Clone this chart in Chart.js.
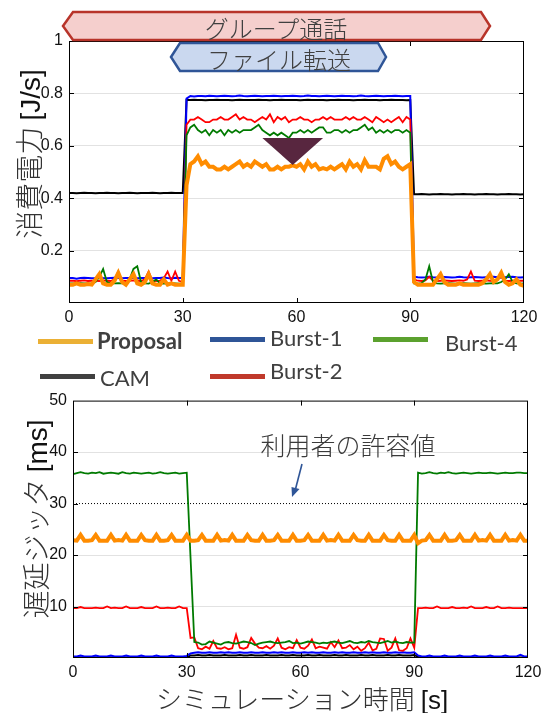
<!DOCTYPE html>
<html lang="ja">
<head>
<meta charset="utf-8">
<title>消費電力と遅延ジッタ</title>
<script src="https://cdn.jsdelivr.net/npm/chart.js@4.4.1/dist/chart.umd.min.js"></script>
<style>
  html, body { margin: 0; padding: 0; background: #fff; }
  #page { position: relative; width: 557px; height: 713px; overflow: hidden;
          font-family: 'Noto Sans CJK JP', sans-serif; }
  .box { position: absolute; left: 0; width: 557px; }
  #box-power  { top: 0;     height: 330px; }
  #box-jitter { top: 385px; height: 328px; }
  #overlay { position: absolute; left: 0; top: 0; pointer-events: none; }
  .ytitle { position: absolute; white-space: nowrap; font-size: 28px; color: #333;
            transform: translate(-50%, -50%) rotate(-90deg); }
  .xtitle { position: absolute; white-space: nowrap; font-size: 26px; color: #333;
            transform: translate(-50%, -50%); }
  .jp  { font-family: 'Noto Sans CJK JP', sans-serif; font-weight: 300; }
  .lat { font-family: 'Liberation Sans', Arial, sans-serif; color: #111; }
  .note { position: absolute; white-space: nowrap; font-size: 25px; color: #3a3a3a;
          font-weight: 300; transform: translate(-50%, -50%); }
  .lg-line { position: absolute; width: 55px; height: 5px; }
  .lg-text { position: absolute; white-space: nowrap; font-family: Lato, 'Open Sans', sans-serif;
             font-size: 22px; color: #404040; transform: translateY(-50%); }
</style>
</head>
<body>
<div id="page">
  <div class="box" id="box-power"><canvas id="chart-power"></canvas></div>
  <div class="box" id="box-jitter"><canvas id="chart-jitter"></canvas></div>

  <svg id="overlay" width="557" height="713" font-family="'Noto Sans CJK JP', sans-serif">
    <polygon points="63,26 73,12 481,12 490,26 481,40 73,40"
             fill="#F5CFCD" stroke="#B8342A" stroke-width="2.5"/>
    <text x="276" y="27" text-anchor="middle" dominant-baseline="central"
          font-size="24" font-weight="300" fill="#404040">グループ通話</text>
    <polygon points="171,57 180,43 378,43 386,57 378,71 180,71"
             fill="#CAD8EF" stroke="#2F5597" stroke-width="2.5"/>
    <text x="279" y="58" text-anchor="middle" dominant-baseline="central"
          font-size="24" font-weight="300" fill="#404040">ファイル転送</text>
    <line x1="302" y1="464" x2="295.5" y2="489" stroke="#2F5597" stroke-width="1.6"/>
    <polygon points="292,497 291.5,487 299.5,489" fill="#2F5597"/>
  </svg>

  <div class="ytitle" style="left:28px; top:154px;"><span class="jp">消費電力</span> <span class="lat">[J/s]</span></div>
  <div class="ytitle" style="left:35px; top:519px;"><span class="jp">遅延ジッタ</span> <span class="lat">[ms]</span></div>
  <div class="xtitle" style="left:302px; top:697px;"><span class="jp">シミュレーション時間</span> <span class="lat">[s]</span></div>
  <div class="note" style="left:348px; top:444px;">利用者の許容値</div>
  <div id="legend"></div>
</div>

<script>
// ---- data --------------------------------------------------------------
const TIME = Array.from({ length: 121 }, (_, i) => i);   // seconds, 1 s sampling

const X_TICKS      = [0, 30, 60, 90, 120];
const POWER_TICKS  = [0, 0.2, 0.4, 0.6, 0.8, 1];
const JITTER_TICKS = [0, 10, 20, 30, 40, 50];
const JITTER_LIMIT = 30;   // 利用者の許容値 [ms]

const SERIES = ['Proposal', 'Burst-1', 'Burst-4', 'CAM', 'Burst-2'];

// 消費電力 [J/s]
const PROPOSAL_POWER = [
  0.07, 0.07, 0.075, 0.07, 0.07, 0.072, 0.07, 0.09, 0.11, 0.075,
  0.07, 0.07, 0.085, 0.115, 0.08, 0.07, 0.09, 0.11, 0.075, 0.07,
  0.08, 0.11, 0.075, 0.07, 0.07, 0.09, 0.07, 0.075, 0.07, 0.07,
  0.07, 0.45, 0.53, 0.54, 0.56, 0.53, 0.54, 0.52, 0.52, 0.51,
  0.51, 0.52, 0.51, 0.52, 0.53, 0.54, 0.52, 0.53, 0.52, 0.54,
  0.53, 0.52, 0.53, 0.51, 0.51, 0.52, 0.51, 0.52, 0.52, 0.525,
  0.52, 0.53, 0.51, 0.54, 0.52, 0.53, 0.51, 0.515, 0.51, 0.52,
  0.51, 0.52, 0.53, 0.51, 0.54, 0.52, 0.53, 0.51, 0.545, 0.52,
  0.52, 0.52, 0.51, 0.55, 0.56, 0.53, 0.54, 0.52, 0.51, 0.52,
  0.53, 0.08, 0.07, 0.07, 0.07, 0.07, 0.07, 0.09, 0.11, 0.08,
  0.07, 0.07, 0.07, 0.075, 0.07, 0.07, 0.07, 0.07, 0.07, 0.075,
  0.09, 0.11, 0.08, 0.09, 0.115, 0.08, 0.07, 0.075, 0.09, 0.07,
  0.065
];
const BURST1_POWER = [
  0.095, 0.095, 0.093, 0.095, 0.096, 0.095, 0.094, 0.095, 0.097, 0.095,
  0.094, 0.095, 0.096, 0.095, 0.094, 0.095, 0.095, 0.096, 0.094, 0.095,
  0.095, 0.096, 0.094, 0.095, 0.095, 0.097, 0.095, 0.094, 0.096, 0.095,
  0.095, 0.78, 0.79, 0.788, 0.79, 0.79, 0.789, 0.791, 0.79, 0.789,
  0.79, 0.791, 0.79, 0.789, 0.79, 0.792, 0.79, 0.789, 0.79, 0.791,
  0.79, 0.789, 0.79, 0.79, 0.791, 0.79, 0.789, 0.79, 0.79, 0.791,
  0.79, 0.789, 0.79, 0.792, 0.79, 0.79, 0.789, 0.79, 0.791, 0.79,
  0.789, 0.79, 0.791, 0.79, 0.79, 0.789, 0.79, 0.792, 0.79, 0.789,
  0.79, 0.791, 0.79, 0.789, 0.79, 0.79, 0.791, 0.79, 0.789, 0.79,
  0.79, 0.1, 0.098, 0.097, 0.098, 0.1, 0.098, 0.097, 0.098, 0.099,
  0.098, 0.097, 0.098, 0.1, 0.098, 0.097, 0.098, 0.099, 0.098, 0.097,
  0.098, 0.099, 0.1, 0.098, 0.097, 0.098, 0.099, 0.1, 0.098, 0.097,
  0.098
];
const BURST4_POWER = [
  0.075, 0.075, 0.074, 0.076, 0.075, 0.075, 0.074, 0.08, 0.10, 0.13,
  0.08, 0.075, 0.075, 0.076, 0.075, 0.074, 0.09, 0.13, 0.14, 0.08,
  0.075, 0.074, 0.08, 0.09, 0.075, 0.074, 0.075, 0.076, 0.075, 0.074,
  0.075, 0.64, 0.67, 0.68, 0.66, 0.65, 0.66, 0.64, 0.66, 0.65,
  0.66, 0.64, 0.66, 0.65, 0.66, 0.65, 0.66, 0.66, 0.66, 0.67,
  0.68, 0.66, 0.65, 0.64, 0.65, 0.64, 0.65, 0.64, 0.63, 0.65,
  0.65, 0.66, 0.65, 0.66, 0.65, 0.66, 0.67, 0.67, 0.65, 0.65,
  0.66, 0.66, 0.65, 0.66, 0.65, 0.66, 0.66, 0.67, 0.68, 0.66,
  0.67, 0.65, 0.66, 0.65, 0.66, 0.65, 0.66, 0.66, 0.65, 0.66,
  0.65, 0.075, 0.074, 0.076, 0.09, 0.14, 0.08, 0.075, 0.074, 0.075,
  0.076, 0.075, 0.074, 0.075, 0.076, 0.075, 0.074, 0.075, 0.076, 0.075,
  0.074, 0.075, 0.076, 0.075, 0.08, 0.09, 0.11, 0.08, 0.075, 0.074,
  0.075
];
const CAM_POWER = [
  0.42, 0.42, 0.419, 0.42, 0.421, 0.42, 0.42, 0.419, 0.42, 0.42,
  0.421, 0.42, 0.42, 0.419, 0.42, 0.42, 0.421, 0.42, 0.419, 0.42,
  0.42, 0.42, 0.421, 0.42, 0.419, 0.42, 0.42, 0.421, 0.42, 0.42,
  0.42, 0.775, 0.775, 0.776, 0.775, 0.775, 0.774, 0.775, 0.775, 0.776,
  0.775, 0.775, 0.775, 0.774, 0.775, 0.776, 0.775, 0.775, 0.775, 0.775,
  0.776, 0.775, 0.775, 0.774, 0.775, 0.775, 0.776, 0.775, 0.775, 0.775,
  0.775, 0.774, 0.775, 0.776, 0.775, 0.775, 0.775, 0.775, 0.774, 0.775,
  0.775, 0.776, 0.775, 0.775, 0.775, 0.774, 0.775, 0.775, 0.776, 0.775,
  0.775, 0.775, 0.774, 0.775, 0.775, 0.776, 0.775, 0.775, 0.775, 0.774,
  0.775, 0.415, 0.415, 0.416, 0.415, 0.414, 0.415, 0.415, 0.416, 0.415,
  0.415, 0.414, 0.415, 0.415, 0.416, 0.415, 0.415, 0.414, 0.415, 0.415,
  0.416, 0.415, 0.415, 0.414, 0.415, 0.415, 0.416, 0.415, 0.415, 0.414,
  0.415
];
const BURST2_POWER = [
  0.085, 0.085, 0.083, 0.085, 0.086, 0.084, 0.085, 0.085, 0.084, 0.086,
  0.085, 0.084, 0.09, 0.12, 0.085, 0.084, 0.085, 0.086, 0.085, 0.084,
  0.09, 0.12, 0.085, 0.084, 0.085, 0.095, 0.12, 0.085, 0.12, 0.085,
  0.08, 0.68, 0.70, 0.70, 0.71, 0.70, 0.69, 0.69, 0.70, 0.70,
  0.71, 0.70, 0.70, 0.71, 0.72, 0.70, 0.71, 0.70, 0.70, 0.69,
  0.70, 0.71, 0.70, 0.72, 0.69, 0.71, 0.70, 0.71, 0.69, 0.70,
  0.70, 0.71, 0.70, 0.70, 0.69, 0.70, 0.70, 0.71, 0.70, 0.71,
  0.70, 0.70, 0.70, 0.71, 0.70, 0.71, 0.70, 0.70, 0.71, 0.70,
  0.69, 0.71, 0.70, 0.69, 0.70, 0.69, 0.70, 0.71, 0.69, 0.71,
  0.70, 0.09, 0.085, 0.084, 0.086, 0.10, 0.085, 0.084, 0.085, 0.086,
  0.085, 0.084, 0.085, 0.086, 0.085, 0.09, 0.12, 0.085, 0.084, 0.085,
  0.086, 0.085, 0.084, 0.09, 0.10, 0.085, 0.084, 0.085, 0.086, 0.085,
  0.085
];

// 遅延ジッタ [ms]
const PROPOSAL_JITTER = [
  22.9, 22.8, 23.9, 22.8, 22.8, 22.9, 23.9, 22.8, 22.8, 22.8,
  23.9, 22.8, 22.9, 22.8, 23.9, 22.8, 22.8, 22.8, 23.9, 22.9,
  22.8, 22.8, 23.9, 22.8, 22.8, 22.9, 23.9, 22.8, 22.8, 22.8,
  23.9, 22.8, 22.8, 22.9, 23.9, 22.8, 22.8, 22.8, 23.9, 22.8,
  22.9, 22.8, 23.9, 22.8, 22.8, 22.8, 23.9, 22.9, 22.8, 22.8,
  23.9, 22.8, 22.8, 22.9, 23.9, 22.8, 22.8, 22.8, 23.9, 22.8,
  22.8, 22.9, 23.9, 22.8, 22.8, 22.8, 23.9, 22.8, 22.9, 22.8,
  23.9, 22.8, 22.8, 22.8, 23.9, 22.9, 22.8, 22.8, 23.9, 22.8,
  22.8, 22.8, 23.9, 22.9, 22.8, 22.8, 23.9, 22.8, 22.8, 22.8,
  23.9, 22.3, 22.8, 22.9, 23.9, 22.8, 22.8, 22.8, 23.9, 22.8,
  22.8, 22.9, 23.9, 22.8, 22.8, 22.8, 23.9, 22.8, 22.9, 22.8,
  23.9, 22.8, 22.8, 22.8, 23.9, 22.8, 22.9, 22.8, 23.9, 22.8,
  22.8
];
const BURST1_JITTER = [
  0.3, 0.3, 0.5, 0.3, 0.3, 0.3, 0.5, 0.3, 0.3, 0.3,
  0.5, 0.3, 0.3, 0.3, 0.5, 0.3, 0.3, 0.3, 0.5, 0.3,
  0.3, 0.3, 0.5, 0.3, 0.3, 0.3, 0.5, 0.3, 0.3, 0.3,
  0.4, 0.9, 1.0, 1.1, 1.0, 1.0, 1.1, 1.0, 1.0, 1.1,
  1.0, 1.1, 1.0, 1.0, 1.1, 1.0, 1.0, 1.1, 1.0, 1.0,
  1.1, 1.0, 1.0, 1.1, 1.0, 1.1, 1.0, 1.0, 1.1, 1.0,
  1.0, 1.1, 1.0, 1.1, 1.0, 1.0, 1.1, 1.0, 1.0, 1.1,
  1.0, 1.1, 1.0, 1.0, 1.1, 1.0, 1.0, 1.1, 1.0, 1.1,
  1.0, 1.0, 1.1, 1.0, 1.0, 1.1, 1.0, 1.1, 1.0, 1.0,
  1.1, 0.5, 0.3, 0.3, 0.5, 0.3, 0.3, 0.3, 0.5, 0.3,
  0.3, 0.3, 0.5, 0.3, 0.3, 0.3, 0.5, 0.3, 0.3, 0.3,
  0.5, 0.3, 0.3, 0.3, 0.5, 0.3, 0.3, 0.3, 0.6, 0.3,
  0.3
];
const BURST4_JITTER = [
  35.7, 35.9, 36.1, 35.9, 35.8, 36.0, 35.9, 36.1, 35.8, 35.9,
  36.0, 35.9, 35.8, 36.1, 35.9, 35.8, 36.0, 35.9, 35.8, 35.9,
  36.0, 35.8, 35.9, 36.1, 35.9, 35.8, 35.9, 36.0, 35.8, 35.9,
  36.0, 19.5, 3.1, 3.0, 2.6, 2.7, 3.2, 3.0, 2.8, 2.6,
  3.0, 3.1, 2.9, 2.8, 3.0, 3.2, 3.1, 2.9, 2.5, 2.8,
  3.0, 3.1, 3.2, 3.0, 2.9, 3.0, 3.1, 3.3, 2.9, 3.0,
  2.8, 3.0, 3.2, 3.1, 3.0, 2.8, 3.0, 2.9, 3.1, 3.2,
  3.0, 2.9, 3.1, 3.3, 3.0, 2.9, 3.1, 3.0, 3.3, 3.1,
  3.0, 2.9, 3.1, 3.3, 3.0, 3.2, 3.0, 2.9, 3.1, 3.0,
  3.0, 36.0, 35.8, 35.9, 36.1, 35.9, 35.8, 36.0, 35.9, 36.1,
  35.9, 35.8, 35.9, 36.0, 35.9, 35.8, 35.9, 36.0, 35.9, 35.9,
  36.0, 35.9, 35.8, 35.9, 36.0, 35.9, 35.9, 36.0, 36.0, 35.9,
  35.9
];
const CAM_JITTER = [
  0.1, 0.1, 0.1, 0.1, 0.1, 0.1, 0.1, 0.1, 0.1, 0.1,
  0.1, 0.1, 0.1, 0.1, 0.1, 0.1, 0.1, 0.1, 0.1, 0.1,
  0.1, 0.1, 0.1, 0.1, 0.1, 0.1, 0.1, 0.1, 0.1, 0.1,
  0.1, 0.5, 0.5, 0.6, 0.5, 0.5, 0.6, 0.5, 0.5, 0.5,
  0.6, 0.5, 0.5, 0.5, 0.6, 0.5, 0.5, 0.6, 0.5, 0.5,
  0.5, 0.6, 0.5, 0.5, 0.5, 0.6, 0.5, 0.5, 0.6, 0.5,
  0.5, 0.5, 0.6, 0.5, 0.5, 0.6, 0.5, 0.5, 0.5, 0.6,
  0.5, 0.5, 0.6, 0.5, 0.5, 0.5, 0.6, 0.5, 0.5, 0.6,
  0.5, 0.5, 0.5, 0.6, 0.5, 0.5, 0.6, 0.5, 0.5, 0.5,
  0.6, 0.2, 0.1, 0.1, 0.1, 0.1, 0.1, 0.1, 0.1, 0.1,
  0.1, 0.1, 0.1, 0.1, 0.1, 0.1, 0.1, 0.1, 0.1, 0.1,
  0.1, 0.1, 0.1, 0.1, 0.1, 0.1, 0.1, 0.1, 0.1, 0.1,
  0.1
];
const BURST2_JITTER = [
  9.7, 9.7, 9.9, 9.7, 9.7, 9.7, 9.8, 9.7, 9.7, 10.0,
  9.7, 9.8, 9.7, 9.7, 10.0, 9.7, 9.7, 9.7, 9.9, 9.7,
  9.7, 9.7, 10.0, 9.7, 9.7, 9.8, 9.7, 9.7, 10.0, 9.7,
  9.7, 3.9, 4.0, 1.9, 1.7, 2.2, 1.8, 3.3, 1.9, 1.8,
  2.1, 1.7, 1.9, 4.5, 2.0, 1.8, 2.1, 3.9, 2.8, 2.0,
  1.9, 2.3, 1.8, 2.4, 3.8, 2.0, 1.7, 2.1, 1.9, 3.5,
  2.0, 1.8, 2.4, 3.6, 1.9, 2.2, 2.0, 1.8, 3.1, 2.1,
  3.4, 1.9, 2.0, 2.5, 1.7, 2.2, 1.4, 1.9, 3.0, 1.5,
  1.8, 3.8, 3.7, 1.4, 2.0, 3.8, 1.5, 1.4, 1.9, 3.8,
  2.0, 9.7, 9.7, 9.8, 9.7, 9.7, 10.0, 9.7, 9.7, 9.7,
  9.9, 9.7, 9.7, 9.8, 9.7, 10.0, 9.7, 9.7, 9.7, 9.9,
  9.7, 9.7, 10.0, 9.7, 9.7, 9.8, 9.7, 9.7, 9.7, 9.7,
  9.7
];

// ---- styles -------------------------------------------------------------
const LINE_STYLE = {
  'Proposal': { color: '#ff8c00', width: 4,   order: 0 },
  'Burst-4':  { color: '#007a00', width: 1.8, order: 1 },
  'Burst-2':  { color: '#ff0000', width: 1.8, order: 2 },
  'Burst-1':  { color: '#0000ff', width: 2,   order: 3 },
  'CAM':      { color: '#000000', width: 2,   order: 4 },
};
const LEGEND_COLORS = {
  'Proposal': '#EBB035', 'Burst-1': '#2F5597', 'Burst-4': '#5BA12E',
  'CAM': '#404040', 'Burst-2': '#C0392B',
};
// legend was pasted in by hand, so each entry has its own spot
const LEGEND_LAYOUT = {
  'Proposal': { lx: 38,  ly: 341, tx: 97,  ty: 340, bold: true },
  'Burst-1':  { lx: 210, ly: 339, tx: 270, ty: 337 },
  'Burst-4':  { lx: 373, ly: 339, tx: 445, ty: 342 },
  'CAM':      { lx: 40,  ly: 376, tx: 100, ty: 377 },
  'Burst-2':  { lx: 210, ly: 376, tx: 270, ty: 370 },
};

const TICK_FONT = { family: "'Liberation Sans', Arial, sans-serif", size: 16 };

// ---- helpers ------------------------------------------------------------
function pts(values) {
  return TIME.map((t, i) => ({ x: t, y: values[i] }));
}

function lineSet(name, values) {
  const s = LINE_STYLE[name];
  return {
    label: name, data: pts(values),
    borderColor: s.color, borderWidth: s.width, order: s.order,
    pointRadius: 0, tension: 0, fill: false,
  };
}

// box round the plot + MATLAB style inward ticks
const framePlugin = {
  id: 'frame',
  afterDraw(chart) {
    const { ctx, chartArea: a, scales: { x, y } } = chart;
    ctx.save();
    ctx.strokeStyle = '#000';
    ctx.lineWidth = 1;
    ctx.strokeRect(a.left + 0.5, a.top + 0.5, a.width - 1, a.height - 1);
    ctx.beginPath();
    x.ticks.forEach(t => {
      const px = Math.round(x.getPixelForValue(t.value)) + 0.5;
      if (px < a.left + 2 || px > a.right - 2) return;
      ctx.moveTo(px, a.bottom); ctx.lineTo(px, a.bottom - 5);
      ctx.moveTo(px, a.top);    ctx.lineTo(px, a.top + 5);
    });
    y.ticks.forEach(t => {
      const py = Math.round(y.getPixelForValue(t.value)) + 0.5;
      if (py < a.top + 2 || py > a.bottom - 2) return;
      ctx.moveTo(a.left, py);  ctx.lineTo(a.left + 5, py);
      ctx.moveTo(a.right, py); ctx.lineTo(a.right - 5, py);
    });
    ctx.stroke();
    ctx.restore();
  }
};

// the dark marker over the file-transfer period
const MARKER = { from: 51, to: 67, tip: 59, top: 0.63, bottom: 0.527 };
const markerPlugin = {
  id: 'marker',
  afterDatasetsDraw(chart) {
    const { ctx, scales: { x, y } } = chart;
    ctx.save();
    ctx.fillStyle = '#58263F';
    ctx.beginPath();
    ctx.moveTo(x.getPixelForValue(MARKER.from), y.getPixelForValue(MARKER.top));
    ctx.lineTo(x.getPixelForValue(MARKER.to),   y.getPixelForValue(MARKER.top));
    ctx.lineTo(x.getPixelForValue(MARKER.tip),  y.getPixelForValue(MARKER.bottom));
    ctx.closePath();
    ctx.fill();
    ctx.restore();
  }
};

function axisOptions({ yTicks, yWidth, xHeight, pad, hideGridAt }) {
  const yMax = yTicks[yTicks.length - 1];
  return {
    responsive: true,
    maintainAspectRatio: false,
    animation: false,
    layout: { padding: pad },
    plugins: { legend: { display: false }, tooltip: { enabled: false } },
    scales: {
      x: {
        type: 'linear', min: X_TICKS[0], max: X_TICKS[X_TICKS.length - 1],
        afterBuildTicks: s => { s.ticks = X_TICKS.map(v => ({ value: v })); },
        afterFit: s => { s.height = xHeight; },
        grid: { display: false, drawTicks: false },
        border: { display: false },
        ticks: { font: TICK_FONT, color: '#111', padding: 5, maxRotation: 0 },
      },
      y: {
        type: 'linear', min: yTicks[0], max: yMax,
        afterBuildTicks: s => { s.ticks = yTicks.map(v => ({ value: v })); },
        afterFit: s => { s.width = yWidth; },
        grid: {
          drawTicks: false,
          color: c => {
            const v = c.tick && c.tick.value;
            if (v === yTicks[0] || v === yMax || v === hideGridAt) return 'rgba(0,0,0,0)';
            return '#e2e2e2';
          },
        },
        border: { display: false },
        ticks: {
          font: TICK_FONT, color: '#111', padding: 6,
          callback: v => (v === 0 ? '' : String(Number(v.toFixed(1)))),
        },
      },
    },
  };
}

// ---- charts -------------------------------------------------------------
new Chart(document.getElementById('chart-power'), {
  type: 'line',
  data: {
    datasets: [
      lineSet('Proposal', PROPOSAL_POWER),
      lineSet('Burst-4',  BURST4_POWER),
      lineSet('Burst-2',  BURST2_POWER),
      lineSet('Burst-1',  BURST1_POWER),
      lineSet('CAM',      CAM_POWER),
    ]
  },
  options: axisOptions({
    yTicks: POWER_TICKS, yWidth: 69, xHeight: 27,
    pad: { top: 41, right: 33, bottom: 0, left: 0 },
  }),
  plugins: [framePlugin, markerPlugin],
});

new Chart(document.getElementById('chart-jitter'), {
  type: 'line',
  data: {
    datasets: [
      lineSet('Proposal', PROPOSAL_JITTER),
      lineSet('Burst-4',  BURST4_JITTER),
      lineSet('Burst-2',  BURST2_JITTER),
      lineSet('Burst-1',  BURST1_JITTER),
      lineSet('CAM',      CAM_JITTER),
      {
        label: '許容値',
        data: [{ x: X_TICKS[0], y: JITTER_LIMIT }, { x: X_TICKS[X_TICKS.length - 1], y: JITTER_LIMIT }],
        borderColor: '#000', borderWidth: 1, borderDash: [1, 2],
        pointRadius: 0, order: 6,
      },
    ]
  },
  options: axisOptions({
    yTicks: JITTER_TICKS, yWidth: 73, xHeight: 55, hideGridAt: JITTER_LIMIT,
    pad: { top: 11, right: 29, bottom: 0, left: 0 },
  }),
  plugins: [framePlugin],
});

// ---- legend -------------------------------------------------------------
const legendBox = document.getElementById('legend');
SERIES.forEach(name => {
  const p = LEGEND_LAYOUT[name];
  const line = document.createElement('div');
  line.className = 'lg-line';
  line.style.left = p.lx + 'px';
  line.style.top = (p.ly - 2.5) + 'px';
  line.style.background = LEGEND_COLORS[name];
  const txt = document.createElement('div');
  txt.className = 'lg-text';
  txt.style.left = p.tx + 'px';
  txt.style.top = p.ty + 'px';
  if (p.bold) txt.style.fontWeight = '700';
  txt.textContent = name;
  legendBox.append(line, txt);
});
</script>
</body>
</html>
